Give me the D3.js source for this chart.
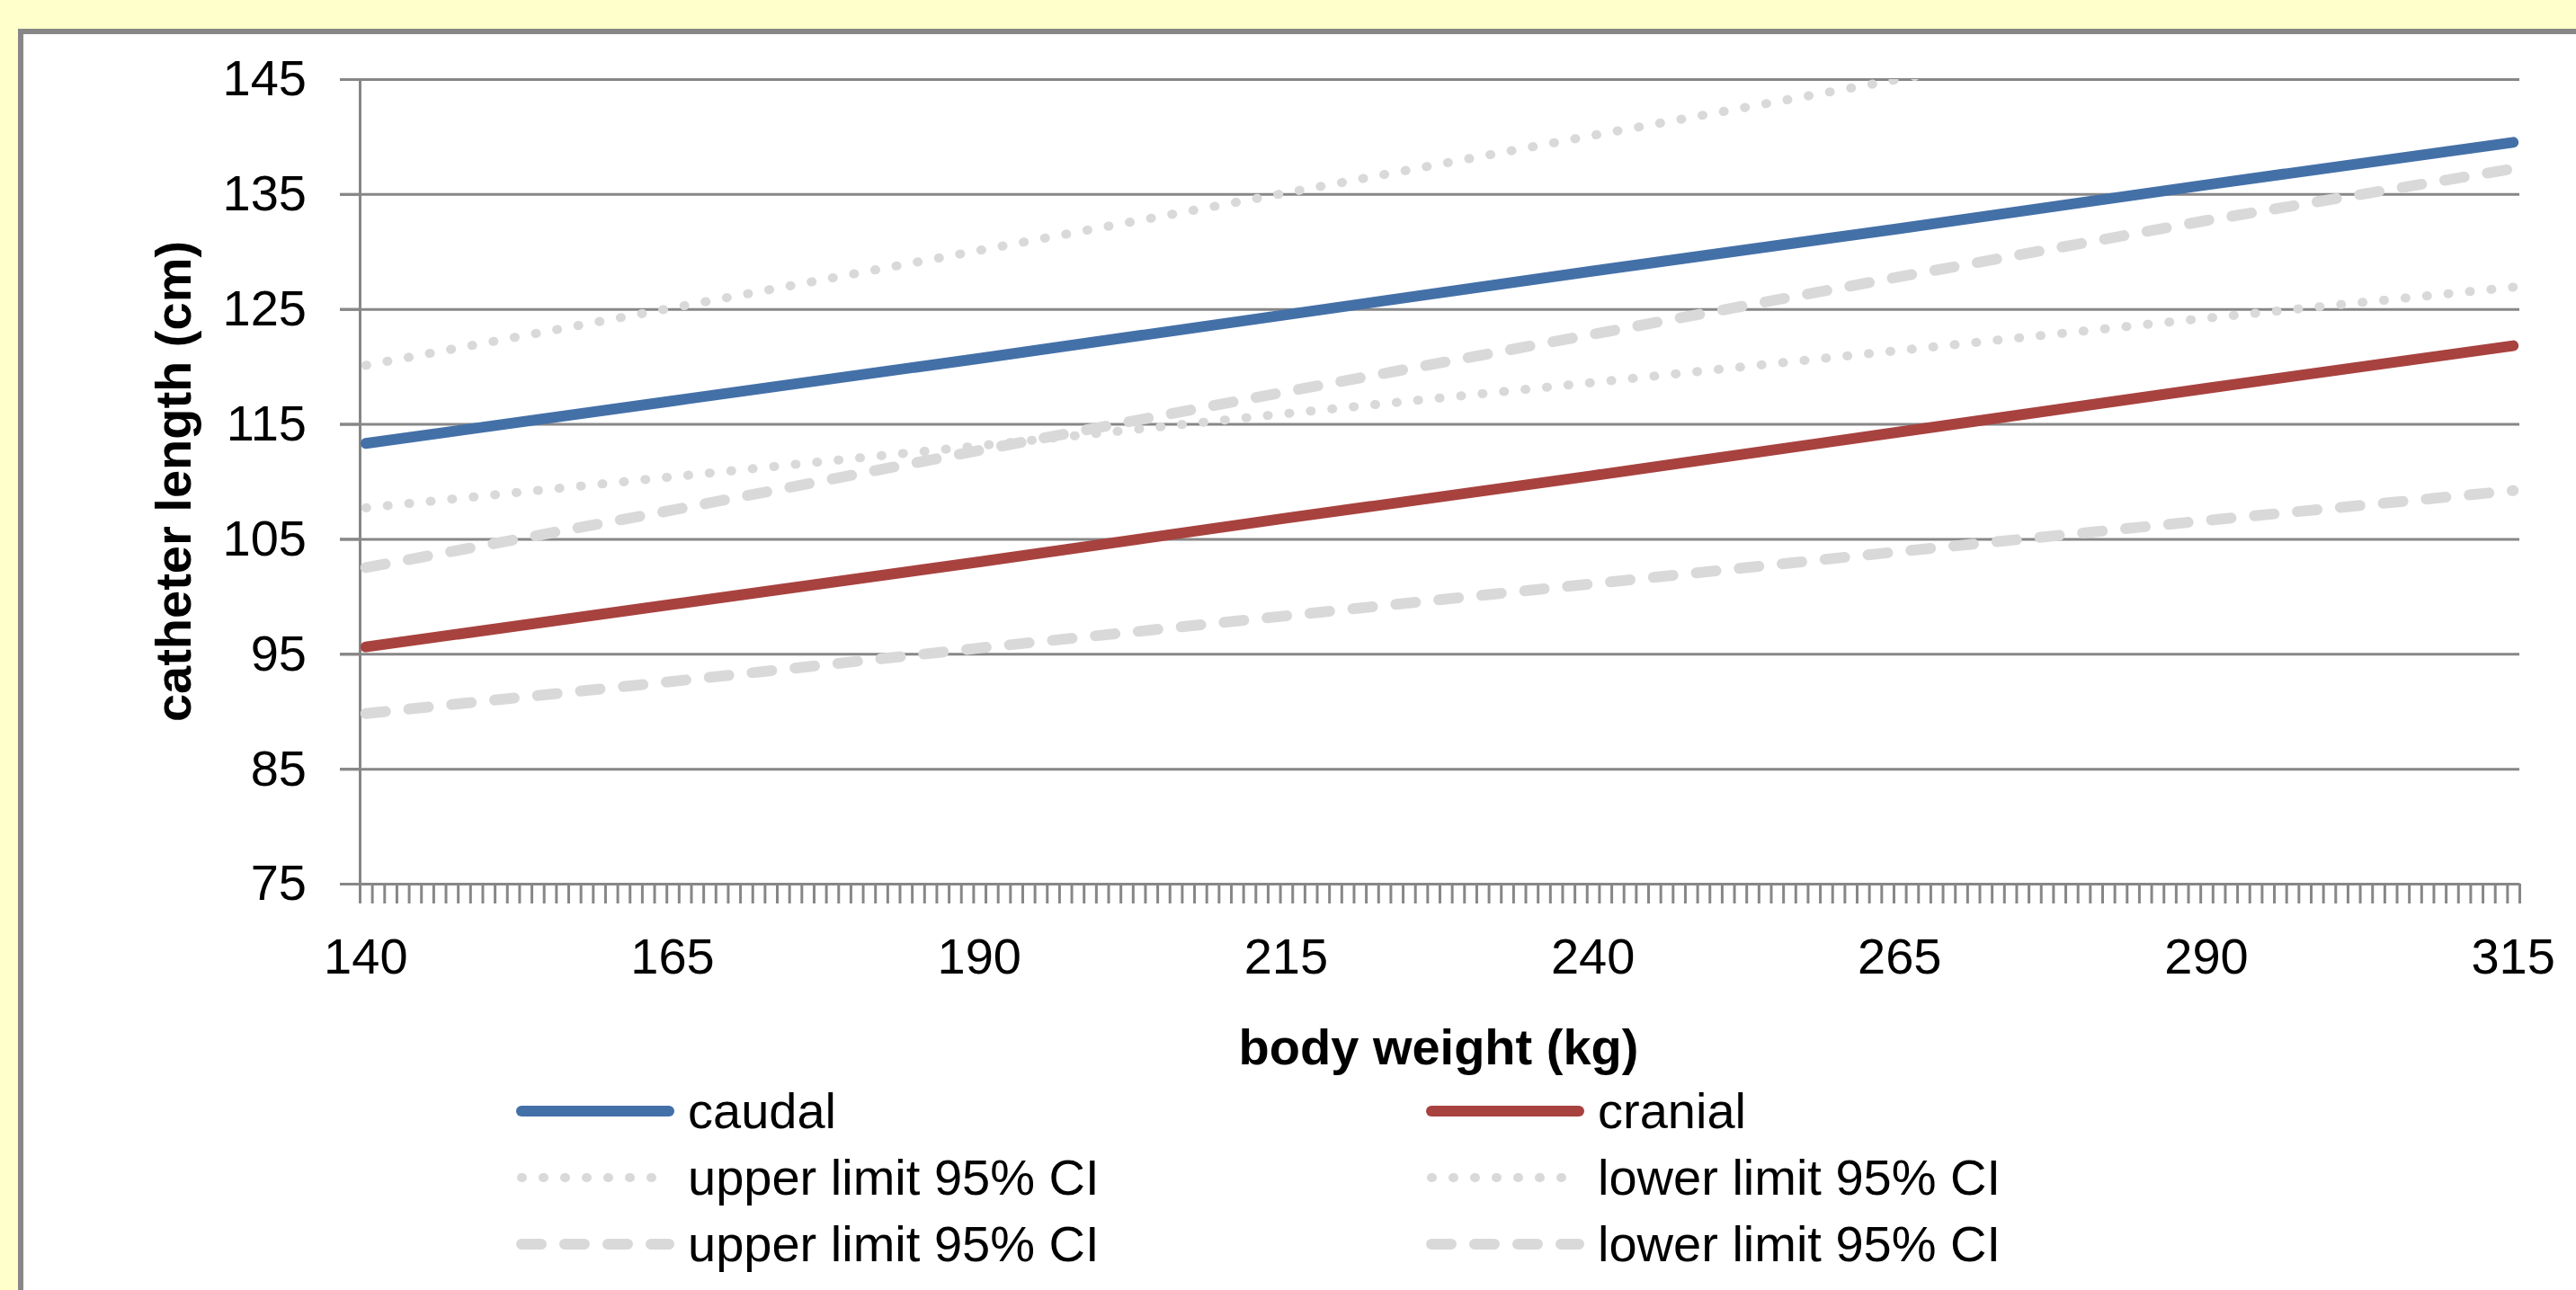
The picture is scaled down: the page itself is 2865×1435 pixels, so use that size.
<!DOCTYPE html>
<html lang="en">
  <head>
    <meta charset="utf-8">
    <title>catheter length vs body weight</title>
    <script type="text/javascript" src="https://cdn.jsdelivr.net/npm/d3@7"></script>
    <style type="text/css">
      body {
        margin: 0;
        background-color: #FFFFCC;
        overflow: hidden;
      }
      text {
        font-family: "Liberation Sans", Arial, sans-serif;
        fill: #000;
      }
    </style>
  </head>
  <body>
    <script type="text/javascript">

      //Data
      var weights = [140, 165, 190, 215, 240, 265, 290, 315];
      var caudal = [113.3, 117.0, 120.7, 124.5, 128.3, 132.0, 135.8, 139.5];
      var cranial = [95.6, 99.3, 103.0, 106.8, 110.5, 114.3, 118.1, 121.8];
      var upperDotted = [120.1, 125.1, 130.1, 135.1, 140.1, 145.0, 149.9, 154.8];
      var lowerDotted = [107.7, 110.4, 113.1, 115.9, 118.6, 121.4, 124.2, 126.9];
      var upperDashed = [102.5, 107.5, 112.7, 117.8, 122.8, 127.8, 132.7, 137.2];
      var lowerDashed = [89.8, 92.6, 95.5, 98.3, 101.1, 103.9, 106.6, 109.2];

      var xLabels = [140, 165, 190, 215, 240, 265, 290, 315];
      var yTicks = [75, 85, 95, 105, 115, 125, 135, 145];

      var seriesNames = ["caudal", "cranial", "upper limit 95% CI", "lower limit 95% CI",
                         "upper limit 95% CI", "lower limit 95% CI"];

      //Width and height
      var w = 2865;
      var h = 1435;
      var plotLeft = 400, plotRight = 2802, plotTop = 88, plotBottom = 983;
      var fontSize = 56;

      var series = [
        { name: seriesNames[0], values: caudal, color: "#4470A8", dash: null, width: 12 },
        { name: seriesNames[1], values: cranial, color: "#A8423F", dash: null, width: 12 },
        { name: seriesNames[2], values: upperDotted, color: "#D9D9D9", dash: "1 23", width: 10 },
        { name: seriesNames[3], values: lowerDotted, color: "#D9D9D9", dash: "1 23", width: 10 },
        { name: seriesNames[4], values: upperDashed, color: "#D9D9D9", dash: "22 26", width: 12 },
        { name: seriesNames[5], values: lowerDashed, color: "#D9D9D9", dash: "22 26", width: 12 }
      ];

      //category axis: one slot per kg, points in the middle of each slot
      var xScale = d3.scaleLinear()
              .domain([139.5, 315.5])
              .range([plotLeft, plotRight]);

      var yScale = d3.scaleLinear()
              .domain([75, 145])
              .range([plotBottom, plotTop]);

      var svg = d3.select("body")
            .append("svg")
            .attr("width", w)
            .attr("height", h);

      //chart box
      svg.append("rect")
         .attr("x", 23)
         .attr("y", 35)
         .attr("width", 3000)
         .attr("height", 2000)
         .attr("fill", "#fff")
         .attr("stroke", "#878787")
         .attr("stroke-width", 6);

      //gridlines
      svg.append("g")
         .attr("transform", "translate(" + plotLeft + ",0)")
         .call(d3.axisLeft(yScale)
            .tickValues(yTicks)
            .tickSize(-(plotRight - plotLeft))
            .tickFormat(""))
         .call(function(g) {
            g.select(".domain").remove();
            g.selectAll("line")
             .attr("stroke", "#878787")
             .attr("stroke-width", 3)
             .attr("x1", plotRight - plotLeft)
             .attr("x2", -22);
         });

      //y axis
      var yAxis = svg.append("g")
         .attr("transform", "translate(" + plotLeft + ",0)")
         .call(d3.axisLeft(yScale)
            .tickValues(yTicks)
            .tickSize(22)
            .tickPadding(37)
            .tickSizeOuter(0));
      yAxis.select(".domain").attr("stroke", "#878787").attr("stroke-width", 3);
      yAxis.selectAll("line").attr("stroke", "#878787").attr("stroke-width", 3);
      yAxis.selectAll("text")
           .style("font-family", "'Liberation Sans', Arial, sans-serif")
           .attr("font-size", fontSize)
           .attr("fill", "#000");

      //x axis: minor ticks between categories
      var xAxis = svg.append("g")
         .attr("transform", "translate(0," + plotBottom + ")")
         .call(d3.axisBottom(xScale)
            .tickValues(d3.range(139.5, 316, 1))
            .tickSize(22)
            .tickSizeOuter(0)
            .tickFormat(""));
      xAxis.select(".domain").attr("stroke", "#878787").attr("stroke-width", 3);
      xAxis.selectAll("line").attr("stroke", "#878787").attr("stroke-width", 3);

      svg.append("g")
         .selectAll("text")
         .data(xLabels)
         .enter()
         .append("text")
         .attr("x", function(d) { return xScale(d); })
         .attr("y", plotBottom + 100)
         .attr("text-anchor", "middle")
         .attr("font-size", fontSize)
         .text(function(d) { return d; });

      //axis titles
      svg.append("text")
         .attr("x", 1600)
         .attr("y", 1184)
         .attr("text-anchor", "middle")
         .attr("font-size", fontSize)
         .attr("font-weight", "bold")
         .text("body weight (kg)");

      svg.append("text")
         .attr("transform", "translate(212," + ((plotTop + plotBottom) / 2) + ") rotate(-90)")
         .attr("text-anchor", "middle")
         .attr("font-size", fontSize)
         .attr("font-weight", "bold")
         .text("catheter length (cm)");

      //lines, clipped to the plot area
      svg.append("clipPath")
         .attr("id", "plot-clip")
         .append("rect")
         .attr("x", plotLeft)
         .attr("y", plotTop)
         .attr("width", plotRight - plotLeft)
         .attr("height", plotBottom - plotTop);

      var line = d3.line()
              .x(function(d, i) { return xScale(weights[i]); })
              .y(function(d) { return yScale(d); });

      svg.append("g")
         .attr("clip-path", "url(#plot-clip)")
         .selectAll("path")
         .data(series)
         .enter()
         .append("path")
         .attr("d", function(d) { return line(d.values); })
         .attr("fill", "none")
         .attr("stroke", function(d) { return d.color; })
         .attr("stroke-width", function(d) { return d.width; })
         .attr("stroke-linecap", "round")
         .attr("stroke-linejoin", "round")
         .attr("stroke-dasharray", function(d) { return d.dash; });

      //legend, two columns
      var legend = svg.append("g")
         .selectAll("g")
         .data(series)
         .enter()
         .append("g")
         .attr("transform", function(d, i) {
            var col = i % 2, row = Math.floor(i / 2);
            return "translate(" + (col === 0 ? 580 : 1592) + "," + (1236 + row * 74) + ")";
         });

      legend.append("line")
         .attr("x1", 0)
         .attr("x2", 164)
         .attr("stroke", function(d) { return d.color; })
         .attr("stroke-width", function(d) { return d.width; })
         .attr("stroke-linecap", "round")
         .attr("stroke-dasharray", function(d) { return d.dash; });

      legend.append("text")
         .attr("x", 185)
         .attr("y", 19)
         .attr("font-size", fontSize)
         .text(function(d) { return d.name; });

    </script>
  </body>
</html>
